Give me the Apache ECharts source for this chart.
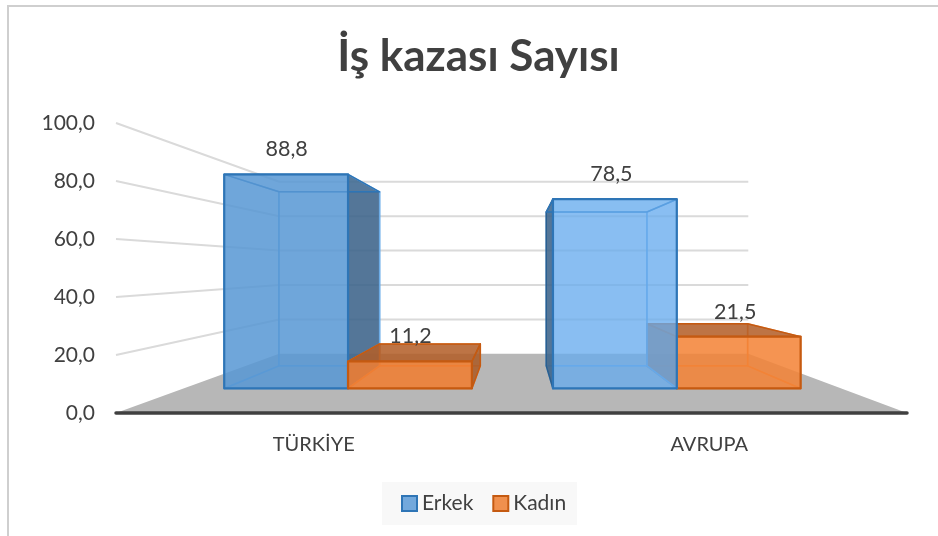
<!DOCTYPE html>
<html>
<head>
<meta charset="utf-8">
<style>html,body{margin:0;padding:0;background:#fff}#c{width:938px;height:536px}</style>
<script src="https://cdn.jsdelivr.net/npm/echarts@6/dist/echarts.min.js"></script>
</head>
<body>
<div id="c"></div>
<script>
var categories = ['TÜRKİYE', 'AVRUPA'];
var erkek = [88.8, 78.5];
var kadin = [11.2, 21.5];
var yTicks = [0, 20, 40, 60, 80, 100];

var FONT = 'Lato';
var TEXT = '#404040';
var VP_X = 0.5069, VP_Y = 0.4983;   // vanishing point as fraction of the front plane
var PERSP = 0.686;                  // depth foreshortening
var BAR_D0 = 0.296, BAR_D1 = 0.699; // bar depth range
var BAR_W = 0.3767;                 // bar width, share of the band

function fmt(v) { return v.toFixed(1).replace('.', ','); }

function projector(cs) {
  var vx = cs.x + cs.width * VP_X, vy = cs.y + cs.height * VP_Y;
  var f = function (px, py, d) {
    var s = 1 / (1 + PERSP * d);
    return [vx + (px - vx) * s, vy + (py - vy) * s];
  };
  f.vx = vx;
  return f;
}

function poly(points, fill, stroke, width, z2) {
  return {
    type: 'polygon', z2: z2, silent: true,
    shape: { points: points },
    style: { fill: fill || 'none', stroke: stroke || 'none', lineWidth: width || 0, lineJoin: 'round' }
  };
}

function renderWalls(params, api) {
  if (params.dataIndex !== 0) return null;
  var cs = params.coordSys, p = projector(cs);
  var l = cs.x, r = cs.x + cs.width, b = cs.y + cs.height;
  var kids = [poly([p(l, b, 0), p(r, b, 0), p(r, b, 1), p(l, b, 1)], '#b7b7b7', null, 0, 1)];
  yTicks.forEach(function (t) {
    if (t === 0) return;
    var y = api.coord([0, t])[1];
    kids.push({
      type: 'polyline', z2: 2, silent: true,
      shape: { points: [p(l, y, 0), p(l, y, 1), p(r, y, 1)] },
      style: { fill: 'none', stroke: '#dadada', lineWidth: 2 }
    });
  });
  return { type: 'group', children: kids };
}

var STYLES = {
  Erkek: {
    edge: '#2e75b6', inner: 'rgba(91,160,225,0.75)',
    front: ['rgba(88,152,212,0.85)', 'rgba(104,172,238,0.76)'],
    side: 'rgba(62,100,138,0.88)', sideEdge: ['rgba(110,175,235,0.9)', '#2a5f90'], top: 'rgba(91,155,213,0.10)', hidden: 'rgba(91,155,213,0.08)'
  },
  'Kadın': {
    edge: '#c55a11', inner: 'rgba(236,125,49,0.8)',
    front: ['rgba(240,126,50,0.87)', 'rgba(243,132,55,0.85)'],
    side: 'rgba(168,92,42,0.88)', sideEdge: ['#c55a11', '#c55a11'], top: 'rgba(178,94,40,0.85)', hidden: 'rgba(237,125,49,0.10)'
  }
};

function renderBar(offsetDir, st) {
  return function (params, api) {
    var cs = params.coordSys, p = projector(cs);
    var idx = api.value(0), val = api.value(1);
    var band = api.size([1, 0])[0];
    var w = band * BAR_W;
    var c = api.coord([idx, val]);
    var base = api.coord([idx, 0])[1];
    var top = c[1];
    var x0 = offsetDir < 0 ? c[0] - w : c[0];
    var x1 = x0 + w;
    var f = function (x, y) { return p(x, y, BAR_D0); };
    var k = function (x, y) { return p(x, y, BAR_D1); };
    var centre = f((x0 + x1) / 2, top)[0];
    var z = Math.round(500 - Math.abs(centre - p.vx)) * 10;

    var rightOutside = k(x1, base)[0] > f(x1, base)[0];
    var leftOutside = k(x0, base)[0] < f(x0, base)[0];
    var kids = [];
    kids.push(poly([k(x0, top), k(x1, top), k(x1, base), k(x0, base)], st.hidden, st.inner, 1.5, z + 1));
    kids.push(poly([f(x0, base), f(x1, base), k(x1, base), k(x0, base)], st.hidden, st.inner, 1.5, z + 2));
    var left = [f(x0, top), k(x0, top), k(x0, base), f(x0, base)];
    var right = [f(x1, top), k(x1, top), k(x1, base), f(x1, base)];
    kids.push(poly(left, leftOutside ? st.side : st.hidden, leftOutside ? st.sideEdge[idx] : st.inner, 1.5, z + 3));
    kids.push(poly(right, rightOutside ? st.side : st.hidden, rightOutside ? st.sideEdge[idx] : st.inner, 1.5, z + 3));
    kids.push(poly([f(x0, top), f(x1, top), k(x1, top), k(x0, top)], st.top, st.edge, 1.5, z + 4));
    kids.push(poly([f(x0, top), f(x1, top), f(x1, base), f(x0, base)], st.front[idx], st.edge, 2.2, z + 5));
    var ft = f((x0 + x1) / 2, top);
    kids.push({
      type: 'text', z2: 9000, silent: true,
      style: {
        x: ft[0] + (ft[0] > p.vx ? -3.5 : 0.5), y: ft[1] - 25, text: fmt(val),
        fill: TEXT, font: '21.5px ' + FONT, textAlign: 'center', textVerticalAlign: 'middle'
      }
    });
    return { type: 'group', children: kids };
  };
}

function pairs(values) { return values.map(function (v, i) { return [i, v]; }); }

var option = {
  animation: false,
  backgroundColor: '#fff',
  title: {
    text: 'İş kazası Sayısı', left: 473.5, top: 30, textAlign: 'center',
    textStyle: { fontFamily: FONT, fontWeight: 'bold', fontSize: 44, color: TEXT }
  },
  legend: {
    left: 382, top: 482, padding: [11, 11, 11, 19], itemGap: 19, itemWidth: 15, itemHeight: 15,
    backgroundColor: '#f8f8f8',
    textStyle: { fontFamily: FONT, fontSize: 21, color: TEXT },
    selectedMode: false,
    data: [
      { name: 'Erkek', icon: 'rect', itemStyle: { color: '#72a8dc', borderColor: '#2e75b6', borderWidth: 2 } },
      { name: 'Kadın', icon: 'rect', itemStyle: { color: '#f0904e', borderColor: '#c55a11', borderWidth: 2 } }
    ]
  },
  grid: { left: 116, right: 31, top: 123, bottom: 123, containLabel: false },
  xAxis: {
    type: 'category', data: categories, z: 5,
    axisLine: { show: true, lineStyle: { color: '#404040', width: 3.5 } },
    axisTick: { show: false },
    axisLabel: { margin: 22, fontFamily: FONT, fontSize: 20, color: TEXT }
  },
  yAxis: {
    type: 'value', min: 0, max: 100, interval: 20,
    axisLine: { show: false }, axisTick: { show: false }, splitLine: { show: false },
    axisLabel: { margin: 21, fontFamily: FONT, fontSize: 21, color: TEXT, formatter: fmt, padding: [6, 0, 0, 0] }
  },
  series: [
    { type: 'custom', name: 'Zemin', silent: true, z: 1, clip: false, data: [[0, 0]], renderItem: renderWalls, encode: { x: 0, y: 1 } },
    { type: 'custom', name: 'Erkek', silent: true, z: 2, clip: false, data: pairs(erkek), renderItem: renderBar(-1, STYLES.Erkek), encode: { x: 0, y: 1 } },
    { type: 'custom', name: 'Kadın', silent: true, z: 2, clip: false, data: pairs(kadin), renderItem: renderBar(1, STYLES['Kadın']), encode: { x: 0, y: 1 } }
  ],
  graphic: [{
    type: 'rect', silent: true, z: 0,
    shape: { x: 8, y: 6, width: 1200, height: 1200 },
    style: { fill: 'none', stroke: '#cfcfcf', lineWidth: 2 }
  }]
};
var chart = echarts.init(document.getElementById('c'));
chart.setOption(option);
</script>
</body>
</html>
